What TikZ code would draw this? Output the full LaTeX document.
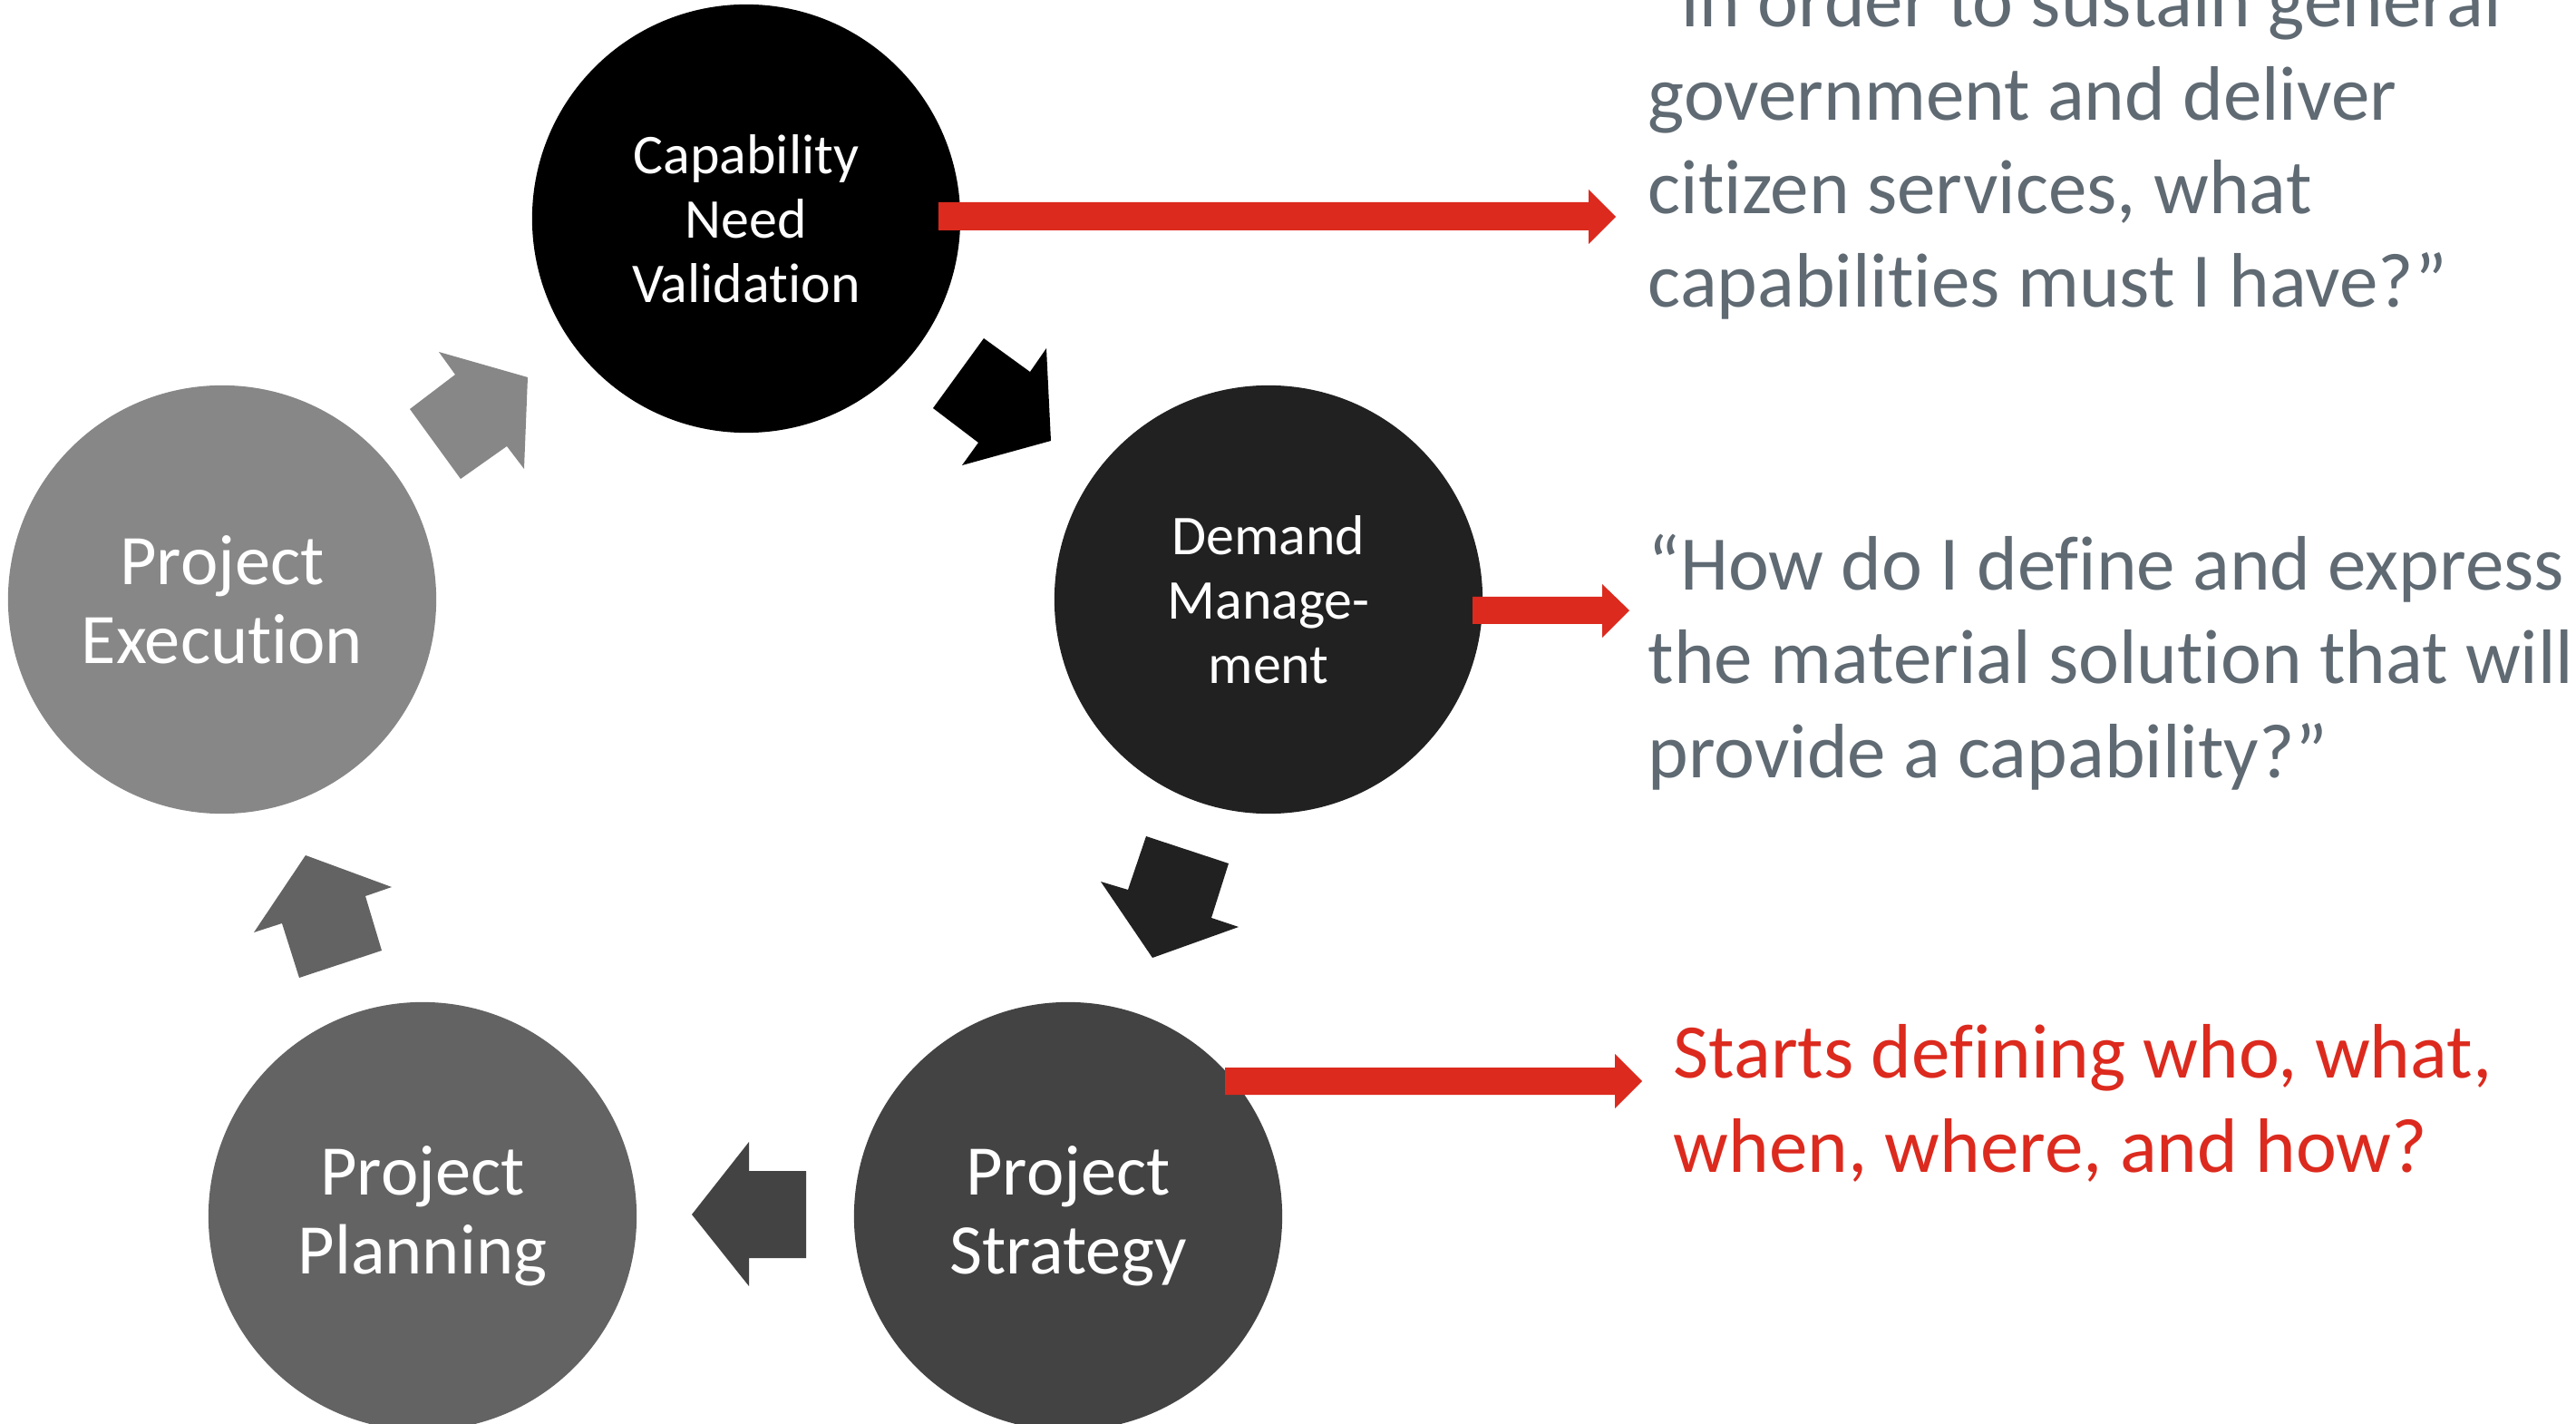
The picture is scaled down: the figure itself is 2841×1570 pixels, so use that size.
\documentclass[tikz,border=0pt]{standalone}
\usepackage{fontspec}
\setmainfont{Carlito}[Ligatures=NoCommon]
\definecolor{myred}{RGB}{220,42,30}
\definecolor{qgray}{RGB}{95,106,115}
\definecolor{cA}{RGB}{0,0,0}
\definecolor{cB}{RGB}{33,33,33}
\definecolor{cC}{RGB}{67,67,67}
\definecolor{cD}{RGB}{99,99,99}
\definecolor{cE}{RGB}{135,135,135}
\begin{document}
\begin{tikzpicture}[x=0.01cm,y=-0.01cm,
  phase/.style={circle, inner sep=0pt, minimum size=4.72cm, text=white, align=center},
  smalltxt/.style={font=\fontsize{17.6}{20.2}\selectfont},
  bigtxt/.style={font=\fontsize{22.3}{24.8}\selectfont},
  quotetxt/.style={anchor=base west, align=left, inner sep=0pt, font=\fontsize{24.2}{29.3}\selectfont},
  redarrow/.style={fill=myred, draw=none}]
\useasboundingbox (0,0) rectangle (2841,1570);
\clip (0,0) rectangle (2841,1570);
% phases
\node[phase, fill=cA, smalltxt] (cap) at (823,241) {Capability\\Need\\Validation};
\node[phase, fill=cB, smalltxt] (dem) at (1399,661) {Demand\\Manage-\\ment};
\node[phase, fill=cC, bigtxt] (str) at (1178,1341) {Project\\Strategy};
\node[phase, fill=cD, bigtxt] (pla) at (466,1341) {Project\\Planning};
\node[phase, fill=cE, bigtxt] (exe) at (245,661) {Project\\Execution};
% block arrows between phases
\fill[cA] (1085,373) -- (1136,410) -- (1154,384) -- (1159,486) -- (1061,513) -- (1079,488) -- (1029,450) -- cycle;
\fill[cB] (1264,922) -- (1355,952) -- (1336,1012) -- (1366,1022) -- (1271,1056) -- (1214,972) -- (1244,981) -- cycle;
\fill[cC] (826,1259) -- (826,1291) -- (889,1291) -- (889,1387) -- (826,1387) -- (826,1418) -- (763,1339) -- cycle;
\fill[cD] (337,943) -- (432,978) -- (403,988) -- (421,1048) -- (330,1078) -- (311,1018) -- (280,1028) -- cycle;
\fill[cE] (484,388) -- (582,416) -- (578,517) -- (559,492) -- (508,528) -- (452,451) -- (502,413) -- cycle;
% red arrows
\fill[redarrow] (1035,223) -- (1752,223) -- (1752,209) -- (1782,239) -- (1752,269) -- (1752,254) -- (1035,254) -- cycle;
\fill[redarrow] (1624,658) -- (1767,658) -- (1767,644) -- (1797,673) -- (1767,703) -- (1767,688) -- (1624,688) -- cycle;
\fill[redarrow] (1351,1177) -- (1781,1177) -- (1781,1162) -- (1811,1192) -- (1781,1222) -- (1781,1207) -- (1351,1207) -- cycle;
% texts (base anchor = last line)
\node[quotetxt, text=qgray] (q1) at (1817,339) {“In order to sustain general\\government and deliver\\citizen services, what\\capabilities must I have?”};
\node[quotetxt, text=qgray] (q2) at (1817,857) {“How do I define and express\\the material solution that will\\provide a capability?”};
\node[quotetxt, text=myred] (q3) at (1845,1292) {Starts defining who, what,\\when, where, and how?};
\end{tikzpicture}
\end{document}
